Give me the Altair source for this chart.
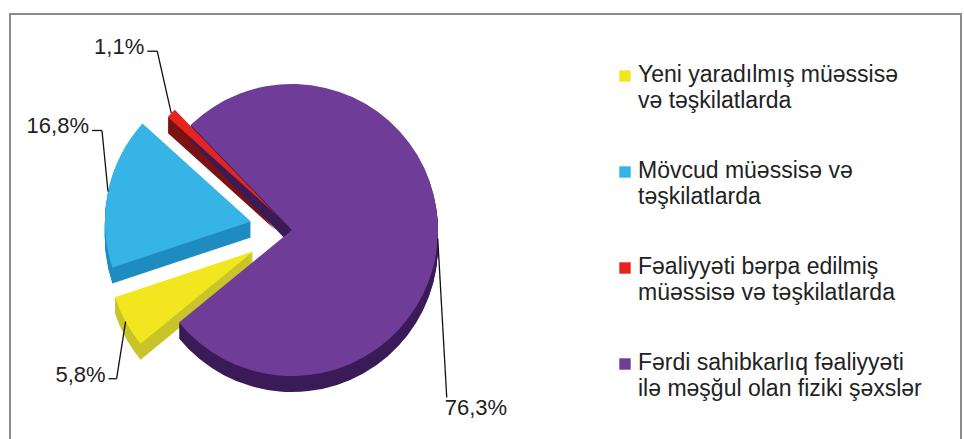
import math
import altair as alt
import pandas as pd

# ---- data (legend order) ----
categories = [
    "Yeni yaradılmış müəssisə\nvə təşkilatlarda",
    "Mövcud müəssisə və\ntəşkilatlarda",
    "Fəaliyyəti bərpa edilmiş\nmüəssisə və təşkilatlarda",
    "Fərdi sahibkarlıq fəaliyyəti\nilə məşğul olan fiziki şəxslər",
]
values = [5.8, 16.8, 1.1, 76.3]
value_labels = ["5,8%", "16,8%", "1,1%", "76,3%"]

# ---- styles ----
top_colors = ["#F2E71E", "#37B4E6", "#E5231F", "#6F3C97"]
side_colors = ["#C9C42A", "#1E8CC0", "#7A1313", "#3A1B58"]
explode = [44, 42, 22, 0]
lead_dx = [-9, -6, -14, 9]
lead_dy = [57, -61, -62, 159]
hook = [-8, -10, -10, 0]

W, H = 964, 439
CX, CY, R = 292, 230, 146
DEPTH = 16
A0 = math.radians(230.7)
FONT = "Liberation Sans"

df = pd.DataFrame({
    "cat": categories,
    "value": values,
    "lab": value_labels,
    "idx": list(range(len(categories))),
    "explode": explode,
    "ldx": lead_dx,
    "ldy": lead_dy,
    "hook": hook,
})
side_df = df.merge(pd.DataFrame({"depth": list(range(1, DEPTH + 1))}), how="cross")


def geom(ch, gb=None):
    gb = gb or []
    return (
        ch.transform_joinaggregate(total="sum(value)", groupby=gb)
        .transform_window(cum="sum(value)", sort=[alt.SortField("idx")],
                          frame=[None, 0], groupby=gb)
        .transform_calculate(t0=f"{A0} + 2*PI*(datum.cum - datum.value)/datum.total")
        .transform_calculate(t1=f"{A0} + 2*PI*datum.cum/datum.total")
        .transform_calculate(tm="(datum.t0 + datum.t1)/2")
        .transform_calculate(cx=f"{CX} + datum.explode*sin(datum.tm)")
        .transform_calculate(cy=f"{CY} - datum.explode*cos(datum.tm)")
        .transform_calculate(ax=f"{CX} + (datum.explode + {R})*sin(datum.tm)")
        .transform_calculate(ay=f"{CY} - (datum.explode + {R})*cos(datum.tm)")
        .transform_calculate(bx="datum.ax + datum.ldx")
        .transform_calculate(by="datum.ay + datum.ldy")
        .transform_calculate(hx="datum.bx + datum.hook")
    )


X = lambda f: alt.X(f, scale=None, axis=None)
Y = lambda f: alt.Y(f, scale=None, axis=None)

side = geom(alt.Chart(side_df), ["depth"]).transform_calculate(
    sy="datum.cy + datum.depth"
).mark_arc(radius=R, stroke=None).encode(
    theta=alt.Theta("t0:Q", scale=None),
    theta2="t1:Q",
    x=X("cx:Q"),
    y=Y("sy:Q"),
    color=alt.Color("cat:N", scale=alt.Scale(domain=categories, range=side_colors), legend=None),
)

top = geom(alt.Chart(df)).mark_arc(radius=R, stroke=None).encode(
    theta=alt.Theta("t0:Q", scale=None),
    theta2="t1:Q",
    x=X("cx:Q"),
    y=Y("cy:Q"),
    fill=alt.Fill("cat:N", scale=alt.Scale(domain=categories, range=top_colors), legend=None),
)

lead1 = geom(alt.Chart(df)).mark_rule(color="#111", strokeWidth=1.3).encode(
    x=X("ax:Q"), y=Y("ay:Q"), x2="bx:Q", y2="by:Q"
)
lead2 = geom(alt.Chart(df)).mark_rule(color="#111", strokeWidth=1.3).encode(
    x=X("bx:Q"), y=Y("by:Q"), x2="hx:Q", y2="by:Q"
)

lab_left = geom(alt.Chart(df)).transform_filter("datum.hook < 0").transform_calculate(
    tx="datum.hx - 3", ty="datum.by - 4"
).mark_text(align="right", baseline="middle", font=FONT, fontSize=22, color="#222").encode(
    x=X("tx:Q"), y=Y("ty:Q"), text="lab:N"
)
lab_right = geom(alt.Chart(df)).transform_filter("datum.hook >= 0").transform_calculate(
    tx="datum.bx - 2", ty="datum.by"
).mark_text(align="left", baseline="top", font=FONT, fontSize=22, color="#222").encode(
    x=X("tx:Q"), y=Y("ty:Q"), text="lab:N"
)

leg_sq = alt.Chart(df).transform_calculate(
    lx="625", ly="76 + datum.idx*96"
).mark_square(size=130, opacity=1).encode(
    x=X("lx:Q"), y=Y("ly:Q"),
    fill=alt.Fill("cat:N", scale=alt.Scale(domain=categories, range=top_colors), legend=None),
)
leg_txt = alt.Chart(df).transform_calculate(
    lx="638", ly="64 + datum.idx*96"
).mark_text(align="left", baseline="top", font=FONT, fontSize=23, lineHeight=26,
            lineBreak="\n", color="#222").encode(
    x=X("lx:Q"), y=Y("ly:Q"), text="cat:N"
)

frame = alt.Chart(df).mark_rect(fill=None, stroke="#8a8a8a", strokeWidth=1.5).encode(
    x=alt.value(10), x2=alt.value(961), y=alt.value(14), y2=alt.value(480)
)

chart = alt.layer(
    frame, side, top, lead1, lead2, lab_left, lab_right, leg_sq, leg_txt
).resolve_scale(color="independent", fill="independent").properties(
    width=W, height=H, autosize=alt.AutoSizeParams(type="none"), padding=0,
    background="white",
).configure_view(stroke=None)

chart.save("out.html", embed_options={"renderer": "svg", "actions": False})
